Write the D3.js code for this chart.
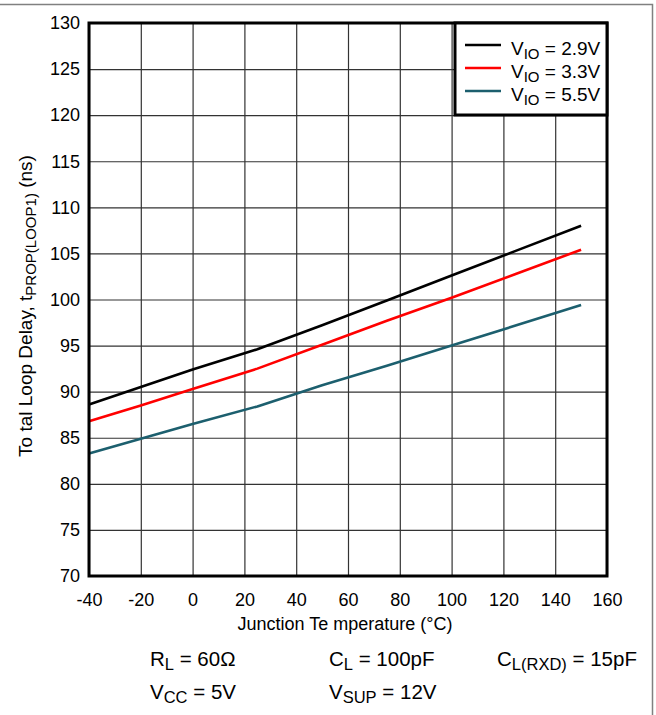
<!DOCTYPE html>
<html>
<head>
<meta charset="utf-8">
<script src="https://cdn.jsdelivr.net/npm/d3@7"></script>
<style>
  body { margin: 0; background: #fff; }
  svg { font-family: "Liberation Sans", Arial, sans-serif; }
</style>
</head>
<body>
<div id="chart"></div>
<script>
// temperatures (°C) and loop delay (ns)
var temps = [-40, -20, 0, 25, 50, 75, 100, 125, 150];
var vio29 = [88.6, 90.5, 92.4, 94.6, 97.2, 99.9, 102.6, 105.3, 108.0];
var vio33 = [86.8, 88.5, 90.3, 92.5, 95.1, 97.7, 100.2, 102.8, 105.4];
var vio55 = [83.3, 84.9, 86.5, 88.4, 90.7, 92.8, 95.0, 97.2, 99.4];
var seriesNames = ["2.9V", "3.3V", "5.5V"];
var seriesColors = ["#000000", "#ff0000", "#1c5f6e"];
var xTicks = [-40, -20, 0, 20, 40, 60, 80, 100, 120, 140, 160];
var yTicks = [70, 75, 80, 85, 90, 95, 100, 105, 110, 115, 120, 125, 130];

var svgWidth = 656, svgHeight = 715;
var margin = {top: 23, right: 49, bottom: 139, left: 89};
var width = svgWidth - margin.left - margin.right;
var height = svgHeight - margin.top - margin.bottom;

var svg = d3.select("#chart").append("svg")
    .attr("width", svgWidth)
    .attr("height", svgHeight);

// outer frame (top and right only, as in the page crop)
svg.append("path")
    .attr("d", "M0,4.5H652.5V715")
    .attr("fill", "none")
    .attr("stroke", "#808080")
    .attr("stroke-width", 1.5);

var g = svg.append("g")
    .attr("transform", `translate(${margin.left},${margin.top})`);

var x = d3.scaleLinear().domain([-40, 160]).range([0, width]);
var y = d3.scaleLinear().domain([70, 130]).range([height, 0]);

// grid lines
var xGrid = g.append("g")
    .attr("transform", `translate(0,${height})`)
    .call(d3.axisBottom(x).tickValues(xTicks).tickSize(-height).tickFormat(""));
var yGrid = g.append("g")
    .call(d3.axisLeft(y).tickValues(yTicks).tickSize(-width).tickFormat(""));
[xGrid, yGrid].forEach(function(a) {
    a.select(".domain").remove();
    a.selectAll("line").attr("stroke", "#333").attr("stroke-width", 1.2);
});

// tick labels (plain hyphen minus like the original)
var fmt = function(d) { return String(d); };
var xAxis = g.append("g")
    .attr("transform", `translate(0,${height})`)
    .call(d3.axisBottom(x).tickValues(xTicks).tickSize(0).tickPadding(17).tickFormat(fmt));
var yAxis = g.append("g")
    .call(d3.axisLeft(y).tickValues(yTicks).tickSize(0).tickPadding(9).tickFormat(fmt));
[xAxis, yAxis].forEach(function(a) {
    a.select(".domain").remove();
    a.attr("font-size", 18).attr("font-family", "Liberation Sans, Arial, sans-serif");
    a.selectAll("text").attr("fill", "#000");
});

// data lines
var line = d3.line()
    .x(function(d) { return x(d[0]); })
    .y(function(d) { return y(d[1]); });

[vio29, vio33, vio55].forEach(function(vals, i) {
    g.append("path")
        .datum(temps.map(function(t, j) { return [t, vals[j]]; }))
        .attr("d", line)
        .attr("fill", "none")
        .attr("stroke", seriesColors[i])
        .attr("stroke-width", 2.6)
        .attr("stroke-linejoin", "round");
});

// plot frame
g.append("rect")
    .attr("width", width).attr("height", height)
    .attr("fill", "none")
    .attr("stroke", "#000")
    .attr("stroke-width", 3);

// legend
var legend = g.append("g").attr("transform", `translate(${width - 152},0)`);
legend.append("rect")
    .attr("width", 152).attr("height", 92)
    .attr("fill", "#fff")
    .attr("stroke", "#000")
    .attr("stroke-width", 3);
seriesNames.forEach(function(name, i) {
    var ly = 22 + i * 23;
    legend.append("line")
        .attr("x1", 10).attr("x2", 46)
        .attr("y1", ly).attr("y2", ly)
        .attr("stroke", seriesColors[i])
        .attr("stroke-width", 2.6);
    var t = legend.append("text")
        .attr("x", 56).attr("y", ly + 9.5)
        .attr("font-size", 19);
    t.append("tspan").text("V");
    t.append("tspan").attr("dy", 4).attr("font-size", 15).text("IO");
    t.append("tspan").attr("dy", -4).text(" = " + name);
});

// axis titles
g.append("text")
    .attr("x", 256).attr("y", height + 54)
    .attr("text-anchor", "middle")
    .attr("font-size", 18)
    .text("Junction Te mperature (°C)");

var yt = g.append("text")
    .attr("transform", `translate(${-57},${283}) rotate(-90)`)
    .attr("text-anchor", "middle")
    .attr("font-size", 19);
yt.append("tspan").text("To tal Loop Delay, t");
yt.append("tspan").attr("dy", 4).attr("font-size", 15).text("PROP(LOOP1)");
yt.append("tspan").attr("dy", -4).text(" (ns)");

// conditions
function cond(xp, yp, main, sub, rest) {
    var t = svg.append("text")
        .attr("x", xp).attr("y", yp)
        .attr("font-size", 20.5);
    t.append("tspan").text(main);
    t.append("tspan").attr("dy", 4).attr("font-size", 16.5).text(sub);
    t.append("tspan").attr("dy", -4).text(rest);
}
cond(150, 666, "R", "L", " = 60Ω");
cond(329, 666, "C", "L", " = 100pF");
cond(497, 666, "C", "L(RXD)", " = 15pF");
cond(150, 699, "V", "CC", " = 5V");
cond(329, 699, "V", "SUP", " = 12V");
</script>
</body>
</html>
